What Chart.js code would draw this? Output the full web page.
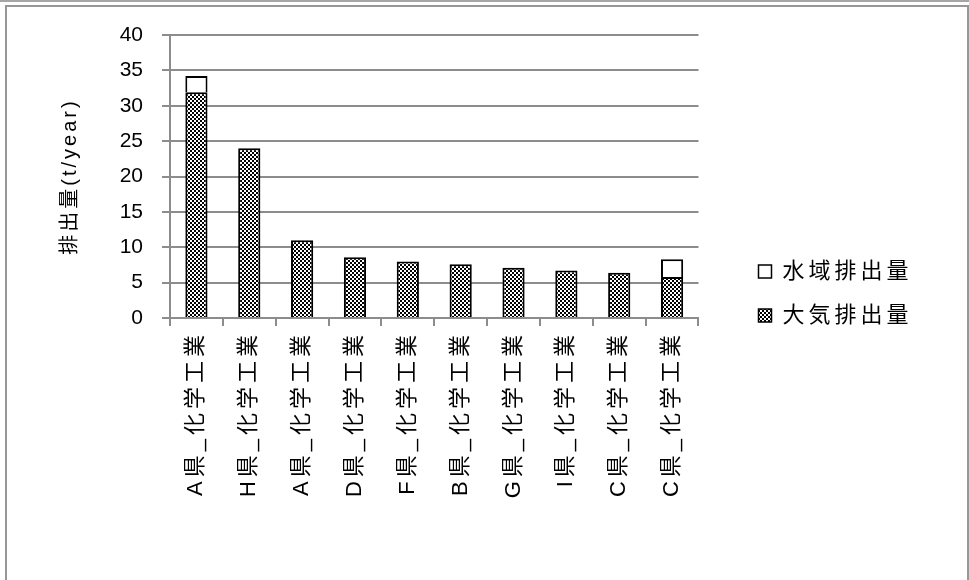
<!DOCTYPE html>
<html><head><meta charset="utf-8">
<script src="https://cdn.jsdelivr.net/npm/chart.js@4"></script>
<style>
html,body{margin:0;padding:0;background:#fff;}
#wrap{position:relative;width:969px;height:580px;overflow:hidden;background:#fff;}
#top{position:absolute;left:0;top:0;width:969px;height:2px;background:#a6a6a6;}
#frame{position:absolute;left:5px;top:5px;width:960px;height:600px;border:2px solid #979797;border-bottom:none;}
canvas{position:absolute;left:0;top:0;}
</style></head><body>
<div id="wrap"><div id="top"></div><div id="frame"></div><canvas id="c" width="969" height="580"></canvas></div>
<script>
// ---- data ----
const categories = ['A県_化学工業','H県_化学工業','A県_化学工業','D県_化学工業','F県_化学工業','B県_化学工業','G県_化学工業','I県_化学工業','C県_化学工業','C県_化学工業'];
const airEmission = [31.9, 24.0, 11.0, 8.6, 8.0, 7.6, 7.1, 6.7, 6.4, 5.8];
const waterEmission = [2.3, 0, 0, 0, 0, 0, 0, 0, 0, 2.5];
const seriesNames = ['大気排出量', '水域排出量'];
const yMin = 0, yMax = 40, yStep = 5;
const yTitle = '排出量(t/year)';

// ---- rendering ----
const FONT = '"Liberation Sans", "Noto Sans CJK JP", sans-serif';
const canvas = document.getElementById('c');
const ctx = canvas.getContext('2d');
(function () {
  const cjk = /[\u3000-\u9fff\uff00-\uffef]/;
  const fill = ctx.fillText, meas = ctx.measureText;
  const spacingFor = c => (/\b20px/.test(c.font) ? '3px' : '4px');
  function wrap(fn) {
    return function (...a) {
      if (typeof a[0] === 'string' && cjk.test(a[0])) {
        const s = this.letterSpacing;
        this.letterSpacing = spacingFor(this);
        const r = fn.apply(this, a);
        this.letterSpacing = s;
        return r;
      }
      return fn.apply(this, a);
    };
  }
  ctx.fillText = wrap(fill);
  ctx.measureText = wrap(meas);
})();

function checker() {
  const c = document.createElement('canvas');
  c.width = 4; c.height = 4;
  const g = c.getContext('2d');
  g.fillStyle = '#fff'; g.fillRect(0, 0, 4, 4);
  g.fillStyle = '#000'; g.fillRect(0, 0, 2, 2); g.fillRect(2, 2, 2, 2);
  return ctx.createPattern(c, 'repeat');
}
const pat = checker();

const legendShift = {
  id: 'legendShift',
  afterLayout(chart) {
    const l = chart.legend; if (!l) return;
    l.left += 38; l.right += 38; l.top -= 14; l.bottom -= 14;
  }
};

const GRID = '#8c8c8c';
new Chart(canvas, {
  type: 'bar',
  data: {
    labels: categories,
    datasets: [
      { label: seriesNames[0], data: airEmission, backgroundColor: pat, borderColor: '#000', borderWidth: 2, barPercentage: 0.42, categoryPercentage: 1 },
      { label: seriesNames[1], data: waterEmission, backgroundColor: '#fff', borderColor: '#000', borderWidth: 2, barPercentage: 0.42, categoryPercentage: 1 }
    ]
  },
  options: {
    responsive: false, animation: false, devicePixelRatio: 1,
    layout: { padding: { top: 35, left: 0, bottom: 0, right: 84.5 } },
    plugins: {
      legend: {
        position: 'right', reverse: true,
        labels: {
          font: { size: 22, family: FONT }, color: '#000', boxWidth: 13, boxHeight: 13, padding: 22,
          generateLabels(chart) {
            const items = Chart.defaults.plugins.legend.labels.generateLabels(chart);
            items.forEach(i => { i.lineWidth = 1.5; });
            return items;
          }
        }
      },
      tooltip: { enabled: false }
    },
    scales: {
      x: {
        stacked: true,
        grid: { display: true, drawOnChartArea: false, drawTicks: true, tickLength: 8, color: GRID, lineWidth: 2, offset: true },
        border: { display: true, color: GRID, width: 2 },
        ticks: { minRotation: 90, maxRotation: 90, autoSkip: false, padding: 5, color: '#000', font: { size: 22, family: FONT } },
        afterFit(s) { s.height = 262; }
      },
      y: {
        stacked: true, min: yMin, max: yMax,
        ticks: { stepSize: yStep, padding: 19, color: '#000', font: { size: 21, family: FONT } },
        grid: { color: GRID, lineWidth: 2, tickLength: 8 },
        border: { color: GRID, width: 2 },
        title: { display: true, text: yTitle, color: '#000', font: { size: 20, family: FONT }, padding: { top: 58 } },
        afterFit(s) { s.width = 170; }
      }
    }
  },
  plugins: [legendShift]
});
</script>
</body></html>
